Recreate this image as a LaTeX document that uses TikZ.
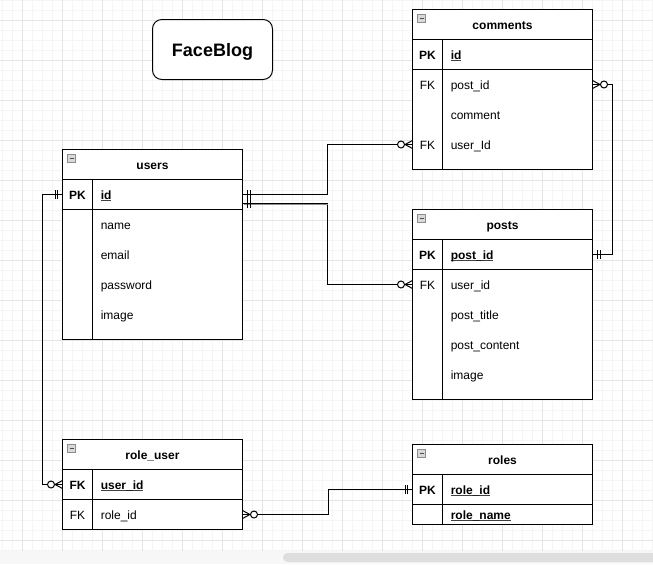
\documentclass[tikz,border=0pt]{standalone}
\usepackage{fontspec}
\setmainfont{Liberation Sans}
\newcommand\ERone[3]{\draw[conn] ({#1+#3*5},{#2-4.5}) -- ({#1+#3*5},{#2+4.5}) ({#1+#3*7.5},{#2-4.5}) -- ({#1+#3*7.5},{#2+4.5});}
\newcommand\ERmany[3]{\draw[conn] (#1,{#2-4}) -- ({#1+#3*7.5},#2) -- (#1,{#2+4}); \draw[conn,fill=white] ({#1+#3*11.5},#2) circle[radius=3.5];}
\newcommand\ulk[1]{\setbox0\hbox{#1}\rlap{\color{black!75}\rule[-1.3pt]{\wd0}{0.6pt}}\box0}
\newcommand\minusicon[2]{\draw[draw=black!45,fill=black!15,line width=0.6pt] ({#1+5},{#2+5}) rectangle ({#1+13},{#2+13}); \draw[black!70,line width=0.9pt] ({#1+7},{#2+9}) -- ({#1+11},{#2+9});}
\tikzset{
  minorgrid/.style={draw=black!4, line width=0.75pt},
  majorgrid/.style={draw=black!10, line width=0.75pt},
  ent/.style={draw=black, line width=0.75pt, fill=white},
  sepline/.style={draw=black, line width=0.75pt},
  conn/.style={draw=black, line width=0.75pt},
  ttl/.style={font=\bfseries\fontsize{9}{10.8}\selectfont, inner sep=0, anchor=base},
  fld/.style={font=\fontsize{9}{10.8}\selectfont, inner sep=0, anchor=base west},
  bfld/.style={font=\bfseries\fontsize{9}{10.8}\selectfont, inner sep=0, anchor=base west},
  keyt/.style={font=\fontsize{9}{10.8}\selectfont, inner sep=0, anchor=base},
  bkeyt/.style={font=\bfseries\fontsize{9}{10.8}\selectfont, inner sep=0, anchor=base},
}
\begin{document}
\begin{tikzpicture}[x=0.75pt,y=-0.75pt]
\useasboundingbox (0,0) rectangle (653,564);
\fill[white] (0,0) rectangle (653,564);
\begin{scope}[shift={(0.5,0.5)}]
% grid
\foreach \x in {2,12,...,652} \draw[minorgrid] (\x,-0.5) -- (\x,550.5);
\foreach \y in {0,10,...,550} \draw[minorgrid] (-0.5,\y) -- (652.5,\y);
\foreach \x in {22,62,...,652} \draw[majorgrid] (\x,-0.5) -- (\x,550.5);
\foreach \y in {20,60,...,540} \draw[majorgrid] (-0.5,\y) -- (652.5,\y);
\end{scope}
% scrollbar
\fill[black!3] (0,551) rectangle (653,564);
\fill[black!13,rounded corners=3.4pt] (283,553) rectangle (660,562);

\begin{scope}[shift={(0.5,0.5)}]
% FaceBlog
\node[draw=black, line width=0.75pt, fill=white, rounded corners=7pt, minimum width=90pt, minimum height=45pt, inner sep=0] (fb) at (212,49) {};
\node[font=\bfseries\fontsize{13.5}{16}\selectfont, inner sep=0, anchor=base] (fbt) at (212,56) {FaceBlog};

% comments
\draw[ent] (412,9) rectangle (592,169);
\draw[sepline] (412,39) -- (592,39) (412,69) -- (592,69) (442,39) -- (442,169);
\minusicon{412}{9}
\node[ttl] (ct) at (502,29) {comments};
\node[bkeyt] (ck1) at (427,59) {PK};
\node[bfld] (cf1) at (450,59) {\ulk{id}};
\node[keyt] (ck2) at (427,89) {FK};
\node[fld] (cf2) at (450,89) {post\_id};
\node[fld] (cf3) at (450,119) {comment};
\node[keyt] (ck4) at (427,149) {FK};
\node[fld] (cf4) at (450,149) {user\_Id};

% users
\draw[ent] (62,149) rectangle (242,339);
\draw[sepline] (62,179) -- (242,179) (62,209) -- (242,209) (92,179) -- (92,339);
\minusicon{62}{149}
\node[ttl] (ut) at (152,169) {users};
\node[bkeyt] (uk1) at (77,199) {PK};
\node[bfld] (uf1) at (100,199) {\ulk{id}};
\node[fld] (uf2) at (100,229) {name};
\node[fld] (uf3) at (100,259) {email};
\node[fld] (uf4) at (100,289) {password};
\node[fld] (uf5) at (100,319) {image};

% posts
\draw[ent] (412,209) rectangle (592,399);
\draw[sepline] (412,239) -- (592,239) (412,269) -- (592,269) (442,239) -- (442,399);
\minusicon{412}{209}
\node[ttl] (pt) at (502,229) {posts};
\node[bkeyt] (pk1) at (427,259) {PK};
\node[bfld] (pf1) at (450,259) {\ulk{post\_id}};
\node[keyt] (pk2) at (427,289) {FK};
\node[fld] (pf2) at (450,289) {user\_id};
\node[fld] (pf3) at (450,319) {post\_title};
\node[fld] (pf4) at (450,349) {post\_content};
\node[fld] (pf5) at (450,379) {image};

% role_user
\draw[ent] (62,439) rectangle (242,529);
\draw[sepline] (62,469) -- (242,469) (62,499) -- (242,499) (92,469) -- (92,529);
\minusicon{62}{439}
\node[ttl] (rut) at (152,459) {role\_user};
\node[bkeyt] (ruk1) at (77,489) {FK};
\node[bfld] (ruf1) at (100,489) {\ulk{user\_id}};
\node[keyt] (ruk2) at (77,519) {FK};
\node[fld] (ruf2) at (100,519) {role\_id};

% roles
\draw[ent] (412,444) rectangle (592,524);
\draw[sepline] (412,474) -- (592,474) (412,504) -- (592,504) (442,474) -- (442,524);
\minusicon{412}{444}
\node[ttl] (rt) at (502,464) {roles};
\node[bkeyt] (rk1) at (427,494) {PK};
\node[bfld] (rf1) at (450,494) {\ulk{role\_id}};
\node[bfld] (rf2) at (450,519) {\ulk{role\_name}};

% connector end points
\coordinate (uidL) at (62,194);
\coordinate (uidR1) at (242,194);
\coordinate (uidR2) at (242,203);
\coordinate (ruuid) at (62,484);
\coordinate (rurid) at (242,514);
\coordinate (cuid) at (412,144);
\coordinate (cpid) at (592,84);
\coordinate (puid) at (412,284);
\coordinate (ppid) at (592,254);
\coordinate (rrid) at (412,489);

% connectors
\draw[conn] (uidL) -- ++(-20,0) |- (ruuid);
\draw[conn] (uidR1) -- (327,194) |- (cuid);
\draw[conn] (uidR2) -- (327,203) |- (puid);
\draw[black!45,line width=0.6pt] (243,204.2) -- (327,204.2);
\draw[conn] (cpid) -- (612,84) |- (ppid);
\draw[conn] (rurid) -- (328,514) |- (rrid);

% markers
\ERone{62}{194}{-1}
\ERmany{62}{484}{-1}
\ERone{242}{194}{1}
\ERone{242}{203}{1}
\ERmany{412}{144}{-1}
\ERmany{412}{284}{-1}
\ERmany{592}{84}{1}
\ERone{592}{254}{1}
\ERmany{242}{514}{1}
\ERone{412}{489}{-1}
\end{scope}
\end{tikzpicture}
\end{document}
